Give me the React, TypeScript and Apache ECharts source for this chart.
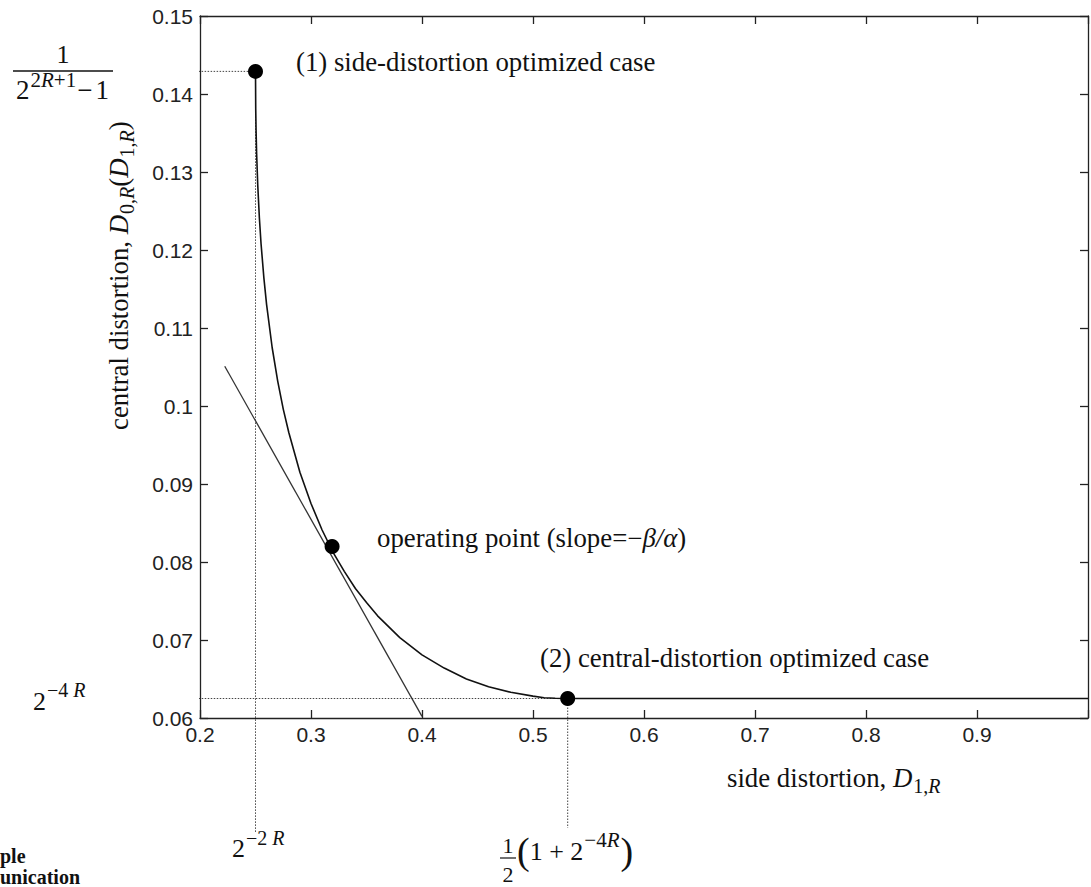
import React, { useEffect, useRef } from "react";
import * as echarts from "echarts";

// ---- data ----
const curveX = [0.25, 0.2502, 0.2505, 0.251, 0.252, 0.2535, 0.255, 0.2575, 0.26, 0.265, 0.27, 0.275, 0.28, 0.29, 0.30, 0.31, 0.32, 0.33, 0.34, 0.35, 0.36, 0.38, 0.40, 0.42, 0.44, 0.46, 0.48, 0.50, 0.51, 0.52, 0.53125, 1.0];
const curveY = [0.1429, 0.1381, 0.1354, 0.1324, 0.1284, 0.1241, 0.1208, 0.1165, 0.1130, 0.1075, 0.1032, 0.0996, 0.0966, 0.0915, 0.0875, 0.0841, 0.0812, 0.0788, 0.0766, 0.0748, 0.0731, 0.0703, 0.0681, 0.0664, 0.0650, 0.0640, 0.0633, 0.0628, 0.0626, 0.06254, 0.0625, 0.0625];
const tangentX = [0.2223, 0.40];
const tangentY = [0.1051, 0.0602];
const pointX = [0.25, 0.319, 0.53125];
const pointY = [0.1429, 0.082, 0.0625];
const guideSideHX = [0.1393, 0.25];
const guideSideHY = [0.1429, 0.1429];
const guideSideVX = [0.25, 0.25];
const guideSideVY = [0.1429, 0.0454];
const guideCentralHX = [0.1286, 0.53125];
const guideCentralHY = [0.0625, 0.0625];
const guideCentralVX = [0.53125, 0.53125];
const guideCentralVY = [0.0625, 0.0459];

const xMin = 0.2, xMax = 1.0, xStep = 0.1;
const yMin = 0.06, yMax = 0.15, yStep = 0.01;

const SERIF = '"Liberation Serif", "Times New Roman", serif';
const SANS = '"Liberation Sans", Arial, Helvetica, sans-serif';
const INK = "#111";

let mctx: CanvasRenderingContext2D | null = null;
function measure(t: string, fs: number, it?: boolean, b?: boolean) {
  if (!mctx) mctx = document.createElement("canvas").getContext("2d");
  if (!mctx) return t.length * fs * 0.5;
  mctx.font = `${it ? "italic " : ""}${b ? "bold " : ""}${fs}px ${SERIF}`;
  return mctx.measureText(t).width;
}

type Piece = { t: string; fs: number; it?: boolean; b?: boolean; dy?: number; dx?: number };

function txt(t: string, x: number, baseY: number, fs: number, opts: any = {}) {
  return {
    type: "text",
    x,
    y: baseY - 0.34 * fs,
    silent: true,
    style: {
      text: t,
      fontSize: fs,
      fontFamily: SERIF,
      fontStyle: opts.it ? "italic" : "normal",
      fontWeight: opts.b ? "bold" : "normal",
      fill: INK,
      textAlign: opts.align || "left",
      textVerticalAlign: "middle",
      verticalAlign: "middle",
    },
  };
}

function run(pieces: Piece[], x0: number, baseY: number) {
  let x = x0;
  const els: any[] = [];
  for (const p of pieces) {
    x += p.dx || 0;
    els.push(txt(p.t, x, baseY + (p.dy || 0), p.fs, { it: p.it, b: p.b }));
    x += measure(p.t, p.fs, p.it, p.b);
  }
  return els;
}

const FS = 26.8;
const SUB = 20;

function buildGraphics() {
  const els: any[] = [];
  // annotations
  els.push(...run([{ t: "(1) side-distortion optimized case", fs: FS }], 296, 71));
  els.push(...run([{ t: "operating point (slope=\u2212", fs: FS }, { t: "\u03B2/\u03B1", fs: FS, it: true }, { t: ")", fs: FS }], 377, 547));
  els.push(...run([{ t: "(2) central-distortion optimized case", fs: FS }], 540, 667));
  // x axis name
  els.push(...run([
    { t: "side distortion, ", fs: FS },
    { t: "D", fs: FS, it: true },
    { t: "1,", fs: SUB, dy: 6, dx: 1 },
    { t: "R", fs: SUB, it: true, dy: 6 },
  ], 727, 787));
  // y axis name (rotated)
  els.push({
    type: "group",
    x: 128,
    y: 430,
    rotation: Math.PI / 2,
    children: run([
      { t: "central distortion, ", fs: FS },
      { t: "D", fs: FS, it: true },
      { t: "0,", fs: SUB, dy: 6, dx: 1 },
      { t: "R", fs: SUB, it: true, dy: 6 },
      { t: "(", fs: FS },
      { t: "D", fs: FS, it: true },
      { t: "1,", fs: SUB, dy: 6, dx: 1 },
      { t: "R", fs: SUB, it: true, dy: 6 },
      { t: ")", fs: FS },
    ], 0, 0),
  });
  // fraction 1 / (2^{2R+1} - 1)
  els.push(txt("1", 63, 63, 26, { align: "center" }));
  els.push({ type: "line", silent: true, shape: { x1: 13, y1: 71, x2: 113, y2: 71 }, style: { stroke: INK, lineWidth: 1.3 } });
  els.push(...run([
    { t: "2", fs: 27 },
    { t: "2", fs: 21, dy: -12, dx: 1 },
    { t: "R", fs: 21, it: true, dy: -12 },
    { t: "+1", fs: 21, dy: -12 },
    { t: "\u2212", fs: 27, dx: 1 },
    { t: "1", fs: 27, dx: 3 },
  ], 16, 99));
  // 2^{-4R}
  els.push(...run([
    { t: "2", fs: 26 },
    { t: "\u22124 ", fs: 20, dy: -13, dx: 1 },
    { t: "R", fs: 20, it: true, dy: -13 },
  ], 33, 710));
  // 2^{-2R}
  els.push(...run([
    { t: "2", fs: 26 },
    { t: "\u22122 ", fs: 20, dy: -12, dx: 1 },
    { t: "R", fs: 20, it: true, dy: -12 },
  ], 232, 857));
  // 1/2 (1 + 2^{-4R})
  els.push(txt("1", 508, 853, 22, { align: "center" }));
  els.push({ type: "line", silent: true, shape: { x1: 500, y1: 858, x2: 516, y2: 858 }, style: { stroke: INK, lineWidth: 1.2 } });
  els.push(txt("2", 508, 882, 22, { align: "center" }));
  els.push(...run([
    { t: "(", fs: 38 },
    { t: "1 + 2", fs: 26, dy: -4 },
    { t: "\u22124", fs: 21, dy: -17, dx: 1 },
    { t: "R", fs: 21, it: true, dy: -17 },
    { t: ")", fs: 38, dx: 1 },
  ], 517, 864));
  // cut-off caption text at bottom-left
  els.push(txt("ple", 0, 863, 20, { b: true }));
  els.push(txt("unication", 0, 884, 20, { b: true }));
  return els;
}

const zip = (xs: number[], ys: number[]) => xs.map((x, i) => [x, ys[i]]);

function guide(xs: number[], ys: number[]) {
  return {
    type: "line",
    data: zip(xs, ys),
    symbol: "none",
    clip: false,
    silent: true,
    z: 1,
    lineStyle: { color: "#444", width: 1, type: [1.5, 1.5] },
  };
}

const axisLine = { show: true, lineStyle: { color: "#222", width: 1.3 } };
const axisTick = { show: true, inside: true, length: 8, lineStyle: { color: "#222", width: 1.3 } };
const fmt = (v: number) => String(+v.toFixed(2));

export default function App() {
  const ref = useRef<HTMLDivElement>(null);
  useEffect(() => {
    if (!ref.current) return;
    const chart = echarts.init(ref.current, undefined, { renderer: "svg" });
    chart.setOption({
      animation: false,
      backgroundColor: "#fff",
      grid: { left: 200, top: 16, width: 896, height: 702, show: false },
      xAxis: [
        {
          type: "value", min: xMin, max: xMax, interval: xStep, position: "bottom",
          axisLine, axisTick, splitLine: { show: false },
          axisLabel: { margin: 6, fontFamily: SANS, fontSize: 21, color: "#222", formatter: (v: number) => (v > 0.95 ? "" : fmt(v)) },
        },
        {
          type: "value", min: xMin, max: xMax, interval: xStep, position: "top",
          axisLine, axisTick, splitLine: { show: false }, axisLabel: { show: false },
        },
      ],
      yAxis: [
        {
          type: "value", min: yMin, max: yMax, interval: yStep, position: "left",
          axisLine, axisTick, splitLine: { show: false },
          axisLabel: { margin: 7, fontFamily: SANS, fontSize: 21, color: "#222", formatter: fmt },
        },
        {
          type: "value", min: yMin, max: yMax, interval: yStep, position: "right",
          axisLine, axisTick, splitLine: { show: false }, axisLabel: { show: false },
        },
      ],
      series: [
        guide(guideSideHX, guideSideHY),
        guide(guideSideVX, guideSideVY),
        guide(guideCentralHX, guideCentralHY),
        guide(guideCentralVX, guideCentralVY),
        {
          type: "line", data: zip(curveX, curveY), symbol: "none", clip: false, silent: true, z: 2,
          lineStyle: { color: "#111", width: 1.6 },
        },
        {
          type: "line", data: zip(tangentX, tangentY), symbol: "none", clip: false, silent: true, z: 2,
          lineStyle: { color: "#333", width: 1.3 },
        },
        {
          type: "scatter", data: zip(pointX, pointY), symbol: "circle", symbolSize: 15, silent: true, z: 5,
          itemStyle: { color: "#000", opacity: 1 },
        },
      ],
      graphic: buildGraphics(),
    });
    return () => chart.dispose();
  }, []);
  return <div ref={ref} style={{ position: "fixed", left: 0, top: 0, width: 1091, height: 887, background: "#fff" }} />;
}
